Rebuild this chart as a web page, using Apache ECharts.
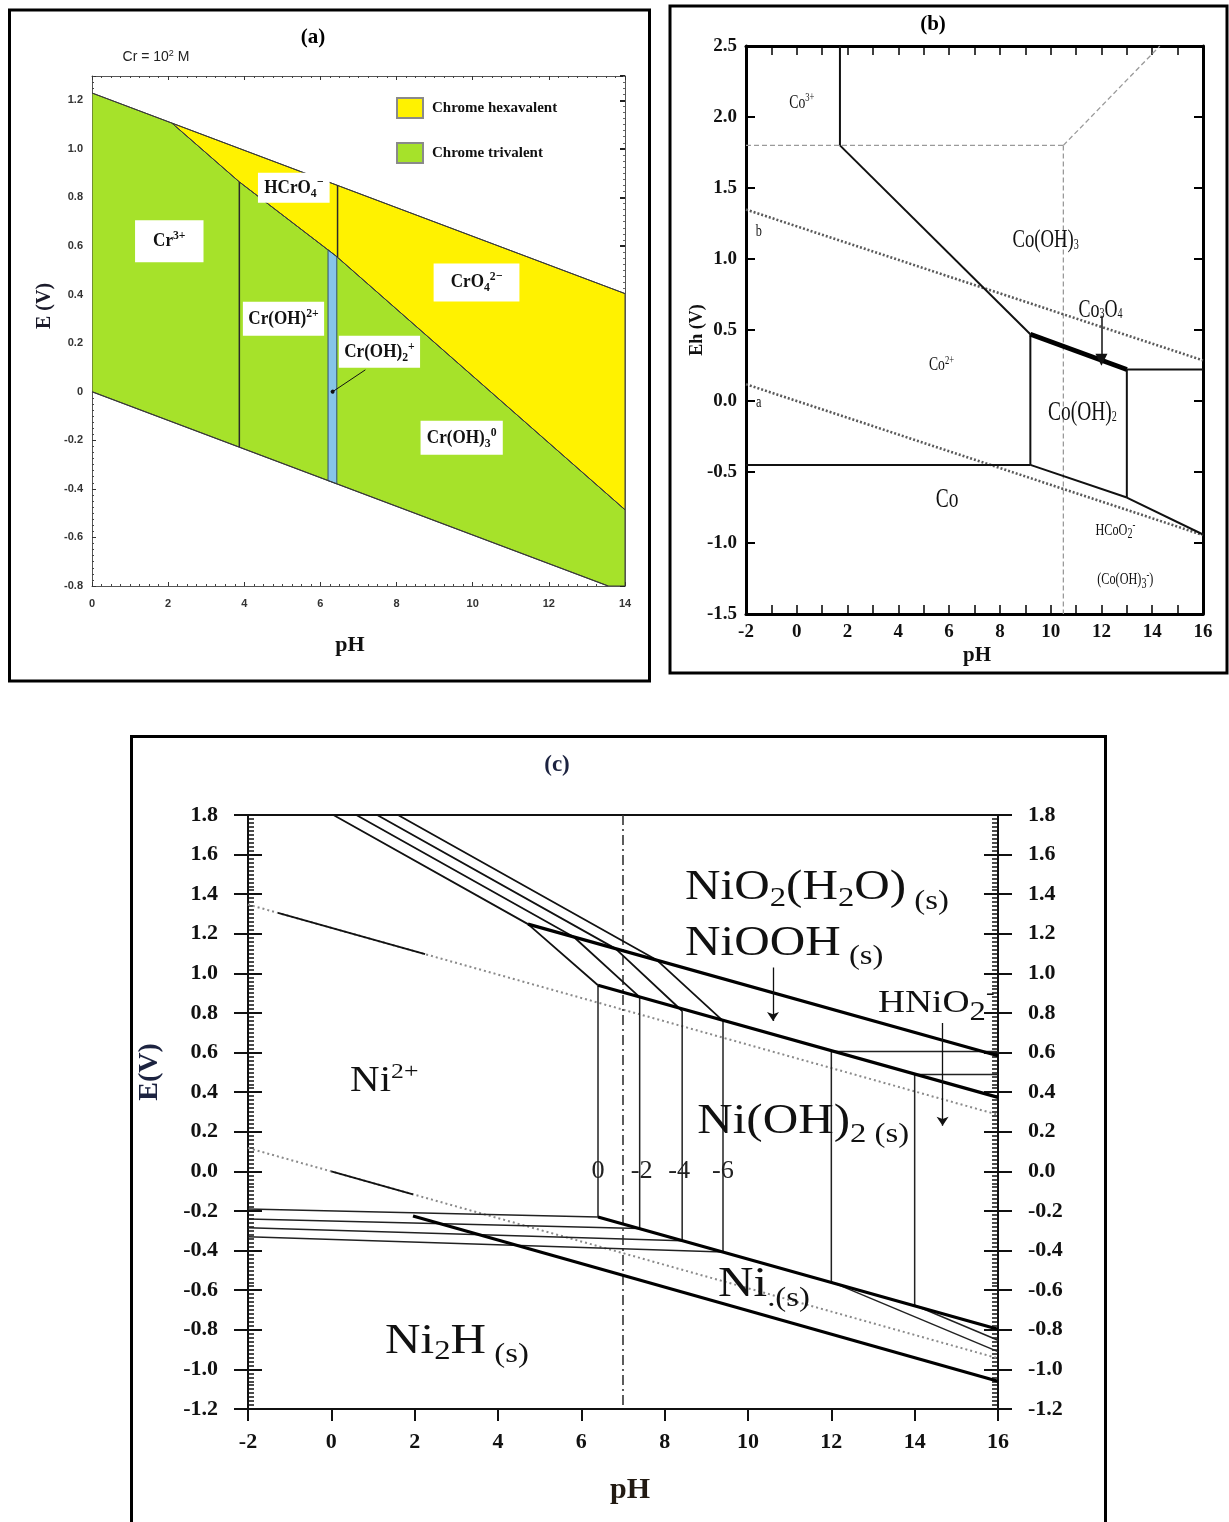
<!DOCTYPE html>
<html>
<head>
<meta charset="utf-8">
<title>Pourbaix diagrams: Cr, Co, Ni</title>
<script src="https://cdn.jsdelivr.net/npm/echarts@6/dist/echarts.min.js"></script>
<style>
  html, body { margin: 0; padding: 0; background: #fff; }
  #chart { width: 1229px; height: 1522px; }
</style>
</head>
<body>
<div id="chart"></div>
<script>
// ================= (a) Cr–H2O, [Cr] = 10^2 M =================
const crO2Line = [[0, 1.23], [14, 0.404]];
const crH2Line = [[0, 0.0], [13.56, -0.80]];
// Cr(III) / Cr(VI) boundary
const crBoundary = [[2.1, 1.106], [3.87, 0.864], [6.2, 0.584], [6.43, 0.556], [14, -0.486]];
const crTrivalent = [[0, 1.23], [2.1, 1.106], [3.87, 0.864], [6.2, 0.584], [6.43, 0.556], [14, -0.486],
                     [14, -0.80], [13.56, -0.80], [0, 0.0]];
const crHexavalent = [[2.1, 1.106], [14, 0.404], [14, -0.486], [6.43, 0.556], [6.2, 0.584], [3.87, 0.864]];
const crOH2Strip = [[6.2, 0.584], [6.43, 0.556], [6.43, -0.379], [6.2, -0.366]];
const crCr3Limit = [[3.87, 0.864], [3.87, -0.228]];
const crHCrO4Limit = [[6.45, 0.85], [6.45, 0.555]];
const crPointer = [[7.18, 0.09], [6.32, 0.0]];
const crLabels = [
  { x: 2.03, y: 0.62, t: 'Cr{p|3+}', pad: [9, 20] },
  { x: 5.30, y: 0.84, t: 'HCrO{b|4}{p|−}', pad: [3, 7] },
  { x: 10.1, y: 0.45, t: 'CrO{b|4}{p|2−}', pad: [7, 19] },
  { x: 5.03, y: 0.30, t: 'Cr(OH){p|2+}', pad: [5, 6] },
  { x: 7.55, y: 0.165, t: 'Cr(OH){b|2}{p|+}', pad: [4, 6] },
  { x: 9.71, y: -0.19, t: 'Cr(OH){b|3}{p|0}', pad: [5, 7] }
];
const crTicksY = [-0.8, 1.3, 0.2];
const crTicksX = [0, 14, 2];

// ================= (b) Co–H2O =================
const coCo3Limit = [[1.7, 2.5], [1.7, 1.8]];
const coCo2Upper = [[1.7, 1.8], [9.2, 0.47]];
const coCo3O4 = [[9.2, 0.47], [13.0, 0.222]];
const coHCoO2Upper = [[13.0, 0.222], [16, 0.222]];
const coOH2Left = [[9.2, 0.47], [9.2, -0.45]];
const coOH2Right = [[13.0, 0.222], [13.0, -0.68]];
const coMetalTop = [[-2, -0.45], [9.2, -0.45]];
const coMetalMid = [[9.2, -0.45], [13.0, -0.68]];
const coMetalRight = [[13.0, -0.68], [16, -0.94]];
const coGuideH = [[-2, 1.8], [10.5, 1.8]];
const coGuideSlope = [[10.5, 1.8], [14.3, 2.5]];
const coGuideV = [[10.5, 1.8], [10.5, -1.5]];
const coWaterB = [[-2, 1.348], [16, 0.286]];
const coWaterA = [[-2, 0.118], [16, -0.944]];
const coArrow = [[12.0, 0.60], [12.0, 0.29]];
const coLabels = [
  { x: 0.2, y: 2.10, t: 'Co{p|3+}', fs: 19 },
  { x: 9.8, y: 1.13, t: 'Co(OH){b|3}', fs: 26 },
  { x: 11.96, y: 0.64, t: 'Co{b|3}O{b|4}', fs: 25 },
  { x: 5.7, y: 0.25, t: 'Co{p|2+}', fs: 19 },
  { x: 11.25, y: -0.085, t: 'Co(OH){b|2}', fs: 27 },
  { x: 5.92, y: -0.70, t: 'Co', fs: 27 },
  { x: 12.55, y: -0.91, t: 'HCoO{b|2}{p|-}', fs: 17 },
  { x: 12.94, y: -1.26, t: '(Co(OH){b|3}{p|-})', fs: 17 },
  { x: -1.5, y: 1.19, t: 'b', fs: 17 },
  { x: -1.5, y: -0.01, t: 'a', fs: 17 }
];

// ================= (c) Ni–H2O =================
// log[Ni2+] = 0, -2, -4, -6
const niLogLabels = ['0', '-2', '-4', '-6'];
const niUpperFamily = [
  [[0.05, 1.80], [4.72, 1.249], [6.40, 0.94]],
  [[0.60, 1.80], [5.82, 1.184], [7.40, 0.88]],
  [[1.10, 1.80], [6.82, 1.125], [8.42, 0.81]],
  [[1.60, 1.80], [7.82, 1.066], [9.40, 0.76]]
];
const niVerticals = [
  [[6.40, 0.94], [6.40, -0.23]],
  [[7.40, 0.88], [7.40, -0.289]],
  [[8.42, 0.81], [8.42, -0.35]],
  [[9.40, 0.76], [9.40, -0.407]]
];
const niMetalFamily = [
  [[-2, -0.19], [6.40, -0.23]],
  [[-2, -0.24], [7.40, -0.289]],
  [[-2, -0.285], [8.42, -0.35]],
  [[-2, -0.33], [9.40, -0.407]]
];
const niO2NiOOH = [[4.72, 1.249], [16, 0.584]];
const niOOHNiOH2 = [[6.40, 0.94], [16, 0.374]];
const niOH2Ni = [[6.40, -0.23], [16, -0.797]];
const niNi2H = [[1.96, -0.225], [16, -1.06]];
const niHNiO2Verticals = [[[12.0, 0.605], [12.0, -0.558]], [[14.0, 0.49], [14.0, -0.676]]];
const niHNiO2Upper = [[[12.0, 0.605], [16, 0.605]], [[14.0, 0.49], [16, 0.49]]];
const niHNiO2Lower = [[[12.0, -0.558], [16, -0.91]], [[14.0, -0.676], [16, -0.853]]];
const niWaterO2 = [[-2, 1.348], [16, 0.286]];
const niWaterH2 = [[-2, 0.118], [16, -0.944]];
const niWaterO2Solid = [[-1.28, 1.306], [2.25, 1.097]];
const niWaterH2Solid = [[0.0, 0.0], [1.96, -0.116]];
const niNeutral = [[7.0, 1.8], [7.0, -1.2]];
const niArrows = [[[10.6, 1.03], [10.6, 0.76]], [[14.67, 0.75], [14.67, 0.23]]];
const niLabels = [
  { x: 8.49, y: 1.43, t: 'NiO{b|2}(H{b|2}O){s| (s)}' },
  { x: 8.49, y: 1.15, t: 'NiOOH{s| (s)}' },
  { x: 13.12, y: 0.85, t: 'HNiO{b|2}{p|-}', fs: 32 },
  { x: 0.45, y: 0.45, t: 'Ni{p|2+}', fs: 35 },
  { x: 8.78, y: 0.25, t: 'Ni(OH){s|2 (s)}' },
  { x: 9.28, y: -0.575, t: 'Ni{s|.(s)}' },
  { x: 1.29, y: -0.86, t: 'Ni{b|2}H{s| (s)}' }
];
const niLogX = [6.40, 7.45, 8.35, 9.40];

// ---------- helpers ----------
const SERIF = '"Liberation Serif", "Times New Roman", serif';
const NARROW = '"Liberation Sans Narrow", "Liberation Sans", sans-serif';

function polyline(pts, xi, yi, style, z) {
  return {
    type: 'line', xAxisIndex: xi, yAxisIndex: yi, data: pts,
    symbol: 'none', showSymbol: false, silent: true, clip: true,
    lineStyle: Object.assign({ color: '#111', width: 1.5 }, style), z: z || 3
  };
}

function polygon(name, pts, fill, stroke, xi, yi, z) {
  return {
    type: 'custom', name: name, xAxisIndex: xi, yAxisIndex: yi,
    data: [pts[0]], itemStyle: { color: fill }, silent: true, clip: true, z: z || 1,
    renderItem: function (params, api) {
      return {
        type: 'polygon',
        shape: { points: pts.map(function (p) { return api.coord(p); }) },
        style: { fill: fill, stroke: stroke, lineWidth: 1 }
      };
    }
  };
}

function arrows(list, xi, yi, sym, size, width) {
  return {
    type: 'lines', coordinateSystem: 'cartesian2d', xAxisIndex: xi, yAxisIndex: yi,
    data: list.map(function (c) { return { coords: c }; }),
    symbol: ['none', sym], symbolSize: size, silent: true, z: 4,
    lineStyle: { color: '#111', width: width, opacity: 1 }
  };
}

function texts(items, xi, yi, base) {
  return {
    type: 'custom', xAxisIndex: xi, yAxisIndex: yi, silent: true, clip: false, z: 6,
    data: items.map(function (d) { return [d.x, d.y]; }),
    renderItem: function (params, api) {
      const d = items[params.dataIndex];
      const p = api.coord([d.x, d.y]);
      const st = Object.assign({
        text: d.t, align: d.align || base.align || 'center', verticalAlign: 'middle'
      }, base.style);
      if (d.fs) st.fontSize = d.fs;
      if (d.pad) st.padding = d.pad;
      return { type: 'text', x: p[0], y: p[1], scaleX: base.sx || 1, style: st };
    }
  };
}

function fmt1(v) { return (Math.round(v * 10) / 10).toFixed(1); }

// ---------- axes ----------
const noSplit = { show: false };
const xAxes = [
  { // (a) bottom
    gridIndex: 0, type: 'value', position: 'bottom', min: crTicksX[0], max: crTicksX[1], interval: crTicksX[2],
    axisLine: { onZero: false, lineStyle: { color: '#555', width: 1 } },
    axisTick: { inside: true, length: 4, lineStyle: { color: '#333' } },
    minorTick: { show: true, splitNumber: 8, length: 2, lineStyle: { color: '#444' } },
    splitLine: noSplit,
    axisLabel: { margin: 12, fontSize: 11, fontWeight: 'bold', color: '#333', fontFamily: NARROW,
      formatter: function (v) { return String(Math.round(v)); } }
  },
  { // (a) top
    gridIndex: 0, type: 'value', position: 'top', min: crTicksX[0], max: crTicksX[1], interval: crTicksX[2],
    axisLine: { onZero: false, lineStyle: { color: '#555', width: 1 } },
    axisTick: { inside: true, length: 4, lineStyle: { color: '#333' } },
    minorTick: { show: true, splitNumber: 8, length: 2, lineStyle: { color: '#444' } },
    splitLine: noSplit, axisLabel: { show: false }
  },
  { // (b) bottom
    gridIndex: 1, type: 'value', position: 'bottom', min: -2, max: 16, interval: 1,
    axisLine: { onZero: false, lineStyle: { color: '#000', width: 3 } },
    axisTick: { inside: true, length: 9, lineStyle: { color: '#000', width: 1.5 } },
    splitLine: noSplit,
    axisLabel: { margin: 9, fontSize: 19, fontWeight: 'bold', color: '#111', fontFamily: SERIF,
      formatter: function (v) { const r = Math.round(v); return r % 2 === 0 ? String(r) : ''; } }
  },
  { // (b) top
    gridIndex: 1, type: 'value', position: 'top', min: -2, max: 16, interval: 1,
    axisLine: { onZero: false, lineStyle: { color: '#000', width: 3 } },
    axisTick: { inside: true, length: 9, lineStyle: { color: '#000', width: 1.5 } },
    splitLine: noSplit, axisLabel: { show: false }
  },
  { // (c) bottom
    gridIndex: 2, type: 'value', position: 'bottom', min: -2, max: 16, interval: 2,
    axisLine: { onZero: false, lineStyle: { color: '#111', width: 2 } },
    axisTick: { inside: false, length: 12, lineStyle: { color: '#111', width: 2 } },
    splitLine: noSplit,
    axisLabel: { margin: 22, fontSize: 22, fontWeight: 'bold', color: '#111', fontFamily: SERIF,
      formatter: function (v) { return String(Math.round(v)); } }
  },
  { // (c) top
    gridIndex: 2, type: 'value', position: 'top', min: -2, max: 16, interval: 2,
    axisLine: { onZero: false, lineStyle: { color: '#111', width: 2 } },
    axisTick: { show: false }, splitLine: noSplit, axisLabel: { show: false }
  }
];

function cSide(pos, inside, labels) {
  return {
    gridIndex: 2, type: 'value', position: pos, min: -1.2, max: 1.8, interval: 0.2,
    axisLine: { onZero: false, lineStyle: { color: '#111', width: 2 } },
    axisTick: { inside: inside, length: 14, lineStyle: { color: '#111', width: 2 } },
    minorTick: { show: inside, splitNumber: 10, length: 6, lineStyle: { color: '#111', width: 1.5 } },
    splitLine: noSplit,
    axisLabel: labels ? { margin: 30, fontSize: 22, fontWeight: 'bold', color: '#111', fontFamily: SERIF, formatter: fmt1 }
                      : { show: false }
  };
}

const yAxes = [
  { // (a) left
    gridIndex: 0, type: 'value', position: 'left', min: crTicksY[0], max: crTicksY[1], interval: crTicksY[2],
    axisLine: { onZero: false, lineStyle: { color: '#555', width: 1 } },
    axisTick: { inside: true, length: 4, lineStyle: { color: '#333' } },
    minorTick: { show: true, splitNumber: 8, length: 2, lineStyle: { color: '#444' } },
    splitLine: noSplit,
    axisLabel: { margin: 9, fontSize: 11, fontWeight: 'bold', color: '#333', fontFamily: NARROW,
      formatter: function (v) {
        if (Math.abs(v * 5 - Math.round(v * 5)) > 1e-6) return '';
        const r = Math.round(v * 10) / 10;
        return r === 0 ? '0' : r.toFixed(1);
      } }
  },
  { // (a) right
    gridIndex: 0, type: 'value', position: 'right', min: crTicksY[0], max: crTicksY[1], interval: crTicksY[2],
    axisLine: { onZero: false, lineStyle: { color: '#555', width: 1 } },
    axisTick: { inside: true, length: 5, lineStyle: { color: '#222', width: 2 } },
    minorTick: { show: true, splitNumber: 8, length: 2, lineStyle: { color: '#666' } },
    splitLine: noSplit, axisLabel: { show: false }
  },
  { // (b) left
    gridIndex: 1, type: 'value', position: 'left', min: -1.5, max: 2.5, interval: 0.5,
    axisLine: { onZero: false, lineStyle: { color: '#000', width: 3 } },
    axisTick: { inside: true, length: 9, lineStyle: { color: '#000', width: 2 } },
    splitLine: noSplit,
    axisLabel: { margin: 9, fontSize: 19, fontWeight: 'bold', color: '#111', fontFamily: SERIF, formatter: fmt1 }
  },
  { // (b) right
    gridIndex: 1, type: 'value', position: 'right', min: -1.5, max: 2.5, interval: 0.5,
    axisLine: { onZero: false, lineStyle: { color: '#000', width: 3 } },
    axisTick: { inside: true, length: 9, lineStyle: { color: '#000', width: 2 } },
    splitLine: noSplit, axisLabel: { show: false }
  },
  cSide('left', false, true),
  cSide('left', true, false),
  cSide('right', false, true),
  cSide('right', true, false)
];

// ---------- series ----------
const series = [];
// (a)
series.push(polygon('Chrome trivalent', crTrivalent, '#a6e22a', '#3c3c3c', 0, 0, 1));
series.push(polygon('Chrome hexavalent', crHexavalent, '#fff200', '#3c3c3c', 0, 0, 1));
series.push(polygon('Cr(OH)2+', crOH2Strip, '#86c5e8', '#2f4f6f', 0, 0, 2));
series.push(polyline(crBoundary, 0, 0, { color: '#3a3a3a', width: 1 }));
series.push(polyline(crO2Line, 0, 0, { color: '#3a3a3a', width: 1 }));
series.push(polyline(crH2Line, 0, 0, { color: '#3a3a3a', width: 1.2 }));
series.push(polyline(crCr3Limit, 0, 0, { color: '#2a2a2a', width: 1.5 }));
series.push(polyline(crHCrO4Limit, 0, 0, { color: '#2a2a2a', width: 1.5 }));
series.push(arrows([crPointer], 0, 0, 'circle', 4, 1));
series.push(texts(crLabels, 0, 0, {
  sx: 0.9,
  style: {
    fontFamily: SERIF, fontWeight: 'bold', fontSize: 19, fill: '#111', backgroundColor: '#fff',
    rich: {
      b: { fontFamily: SERIF, fontWeight: 'bold', fontSize: 13, padding: [11, 0, 0, 0] },
      p: { fontFamily: SERIF, fontWeight: 'bold', fontSize: 13, padding: [0, 0, 11, 0] }
    }
  }
}));

// (b)
const coSolid = { color: '#111', width: 2 };
[coCo3Limit, coCo2Upper, coHCoO2Upper, coOH2Left, coOH2Right, coMetalTop, coMetalMid, coMetalRight]
  .forEach(function (s) { series.push(polyline(s, 2, 2, coSolid)); });
series.push(polyline(coCo3O4, 2, 2, { color: '#000', width: 5 }));
[coGuideH, coGuideSlope, coGuideV].forEach(function (s) {
  series.push(polyline(s, 2, 2, { color: '#9a9a9a', width: 1.3, type: [5, 3] }, 2));
});
[coWaterB, coWaterA].forEach(function (s) {
  series.push(polyline(s, 2, 2, { color: '#5a5a5a', width: 2.6, type: [2, 2] }, 2));
});
series.push(arrows([coArrow], 2, 2, 'triangle', [10, 12], 1.5));
series.push(texts(coLabels, 2, 2, {
  sx: 0.72,
  style: {
    fontFamily: SERIF, fontSize: 20, fill: '#111',
    rich: {
      b: { fontFamily: SERIF, fontSize: 14, padding: [9, 0, 0, 0] },
      p: { fontFamily: SERIF, fontSize: 12, padding: [0, 0, 9, 0] }
    }
  }
}));

// (c)
niUpperFamily.forEach(function (s) { series.push(polyline(s, 4, 4, { color: '#111', width: 1.8 })); });
niVerticals.forEach(function (s) { series.push(polyline(s, 4, 4, { color: '#222', width: 1.5 })); });
niMetalFamily.forEach(function (s) { series.push(polyline(s, 4, 4, { color: '#222', width: 1.5 })); });
niHNiO2Verticals.concat(niHNiO2Upper).concat(niHNiO2Lower).forEach(function (s) {
  series.push(polyline(s, 4, 4, { color: '#222', width: 1.5 }));
});
[niO2NiOOH, niOOHNiOH2, niOH2Ni, niNi2H].forEach(function (s) {
  series.push(polyline(s, 4, 4, { color: '#000', width: 3.2 }));
});
[niWaterO2, niWaterH2].forEach(function (s) {
  series.push(polyline(s, 4, 4, { color: '#8a8a8a', width: 2, type: [2, 3] }, 2));
});
[niWaterO2Solid, niWaterH2Solid].forEach(function (s) {
  series.push(polyline(s, 4, 4, { color: '#111', width: 1.8 }));
});
series.push(polyline(niNeutral, 4, 4, { color: '#333', width: 1.6, type: [10, 4, 2, 4] }, 2));
series.push(arrows(niArrows, 4, 4, 'arrow', [6, 9], 1.3));
series.push(texts(niLabels, 4, 4, {
  sx: 1.17, align: 'left',
  style: {
    fontFamily: SERIF, fontSize: 42, fill: '#111',
    rich: {
      b: { fontFamily: SERIF, fontSize: 28, padding: [20, 0, 0, 0] },
      s: { fontFamily: SERIF, fontSize: 28, padding: [26, 0, 0, 0] },
      p: { fontFamily: SERIF, fontSize: 22, padding: [0, 0, 20, 0] }
    }
  }
}));
series.push(texts(niLogX.map(function (x, i) { return { x: x, y: 0.0, t: niLogLabels[i] }; }), 4, 4, {
  sx: 1.05, style: { fontFamily: SERIF, fontSize: 25, fill: '#222' }
}));

// ---------- frames, titles and axis names ----------
function txt(x, y, text, font, fill, rot, rich) {
  const o = { type: 'text', x: x, y: y, z: 10, silent: true,
    style: { text: text, font: font, fill: fill || '#111', align: 'center', verticalAlign: 'middle' } };
  if (rot) o.rotation = rot;
  if (rich) o.style.rich = rich;
  return o;
}
const graphic = [
  { type: 'rect', z: 10, silent: true, shape: { x: 9.5, y: 10, width: 640, height: 671 },
    style: { fill: 'none', stroke: '#000', lineWidth: 3 } },
  { type: 'rect', z: 10, silent: true, shape: { x: 670, y: 6, width: 557, height: 667 },
    style: { fill: 'none', stroke: '#000', lineWidth: 3 } },
  { type: 'rect', z: 10, silent: true, shape: { x: 131.5, y: 736.5, width: 974, height: 800 },
    style: { fill: 'none', stroke: '#000', lineWidth: 3 } },
  txt(313, 38, '(a)', 'bold 21px ' + SERIF, '#000'),
  txt(156, 57, '{a|Cr = 10}{s|2}{a| M}', 'bold 13px ' + NARROW, '#222', 0, {
    a: { fontFamily: NARROW, fontSize: 14, fill: '#222' },
    s: { fontFamily: NARROW, fontSize: 9, fill: '#222', padding: [0, 0, 7, 0] }
  }),
  txt(45, 306, 'E (V)', 'bold 20px ' + SERIF, '#1a1a2a', Math.PI / 2),
  txt(350, 645, 'pH', 'bold 22px ' + SERIF, '#111'),
  txt(933, 25, '(b)', 'bold 21px ' + SERIF, '#000'),
  txt(697, 330, 'Eh (V)', 'bold 18px ' + SERIF, '#111', Math.PI / 2),
  txt(977, 656, 'pH', 'bold 21px ' + SERIF, '#111'),
  txt(557, 765, '(c)', 'bold 23px ' + SERIF, '#1c2340'),
  txt(150, 1072, 'E(V)', 'bold 28px ' + SERIF, '#1c2340', Math.PI / 2),
  txt(630, 1490, 'pH', 'bold 30px ' + SERIF, '#221a12')
];

const chart = echarts.init(document.getElementById('chart'), null, { renderer: 'canvas' });
chart.setOption({
  backgroundColor: '#fff',
  animation: false,
  grid: [
    { left: 92, top: 76, width: 533, height: 510 },
    { left: 746, top: 46, width: 457, height: 568 },
    { left: 248, top: 815, width: 750, height: 594 }
  ],
  legend: {
    left: 396, top: 97, padding: 0, orient: 'vertical', icon: 'rect', selectedMode: false,
    itemWidth: 26, itemHeight: 20, itemGap: 23,
    textStyle: { fontFamily: SERIF, fontWeight: 'bold', fontSize: 15, color: '#111', padding: [0, 0, 0, 4] },
    data: [
      { name: 'Chrome hexavalent', itemStyle: { color: '#fff200', borderColor: '#8a8a8a', borderWidth: 2 } },
      { name: 'Chrome trivalent', itemStyle: { color: '#a6e22a', borderColor: '#8a8a8a', borderWidth: 2 } }
    ]
  },
  xAxis: xAxes,
  yAxis: yAxes,
  series: series,
  graphic: graphic
});
</script>
</body>
</html>
